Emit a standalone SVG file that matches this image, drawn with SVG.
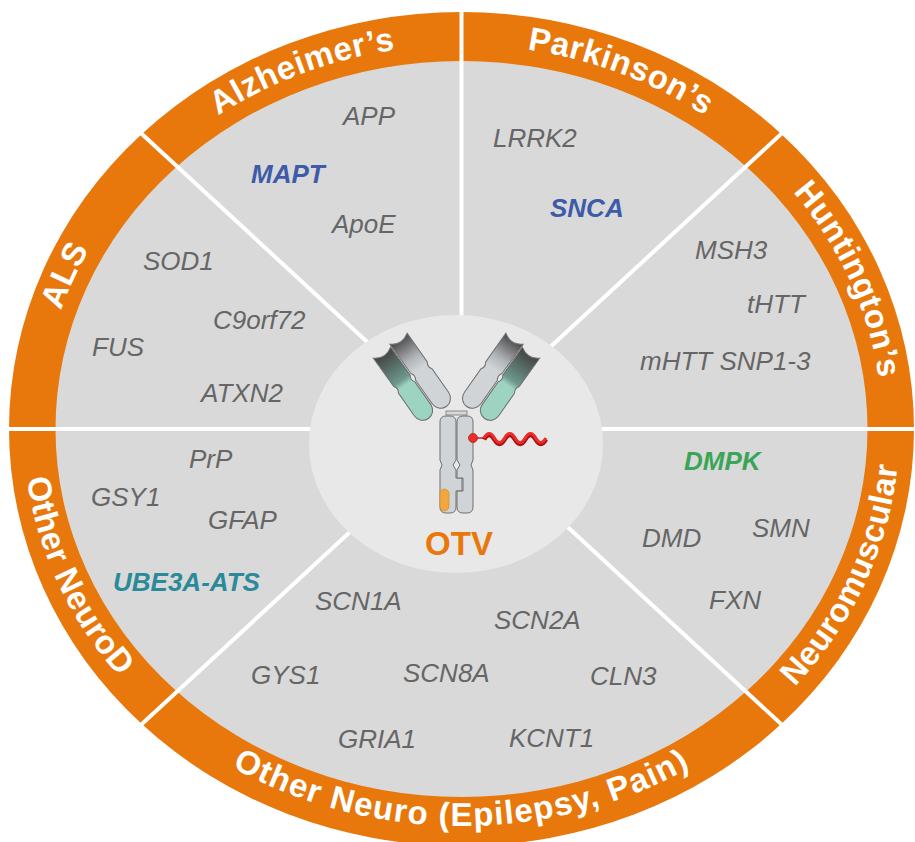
<svg xmlns="http://www.w3.org/2000/svg" xmlns:xlink="http://www.w3.org/1999/xlink" width="915" height="842" viewBox="0 0 915 842">
  <style>
    .band { fill: #E8780C; }
    .sector { fill: #D9D9D9; }
    .hub { fill: #E8E8E8; }
    .divider { stroke: #FFFFFF; stroke-width: 4; fill: none; }
    .cat { font-family: "Liberation Sans", Arial, sans-serif; font-weight: bold; font-size: 33px; letter-spacing: 0.5px; fill: #FFFFFF; }
    .cat-wide { letter-spacing: 1.2px; }
    .gene { font-family: "Liberation Sans", Arial, sans-serif; font-style: italic; font-size: 26px; fill: #666666; }
    .key { font-weight: bold; }
    .blue { fill: #3E5BA9; }
    .green { fill: #3AA556; }
    .teal { fill: #2A8A9A; }
    .chain { stroke: #6E6E6E; stroke-width: 1; }
    .fc { fill: #D1D4D7; stroke: #6E6E6E; stroke-width: 1; }
    .otv { font-family: "Liberation Sans", Arial, sans-serif; font-weight: bold; font-size: 33px; fill: #E8780C; }
  </style>
  <defs>
    <!-- baseline arcs for the category labels: clockwise along the top, counter-clockwise along the bottom -->
    <path id="arc-alz" d="M165.5,155.9 A421,384 0 0 1 461.5,45"/>
    <path id="arc-park" d="M461.5,45 A421,384 0 0 1 757.5,155.9"/>
    <path id="arc-hunt" d="M757.5,155.9 A421,384 0 0 1 882.5,429"/>
    <path id="arc-als" d="M40.5,429 A421,384 0 0 1 165.5,155.9"/>
    <path id="arc-ond" d="M23.5,429 A438,397 0 0 0 154.6,712.2"/>
    <path id="arc-on" d="M154.6,712.2 A438,397 0 0 0 768.4,712.2"/>
    <path id="arc-nm" d="M768.4,712.2 A438,397 0 0 0 899.5,429"/>

    <!-- antibody arm chain, drawn upright from its top centre -->
    <path id="chain" d="M-10.5,-1 Q-1,7 10,0 L10,34 Q7,38 10,42 L10,70 A10,10 0 0 1 -10,70 L-10,42 Q-7,38 -10,34 Z"/>
    <linearGradient id="gHeavy" x1="0" y1="0" x2="0" y2="1">
      <stop offset="0" stop-color="#444444"/>
      <stop offset="0.3" stop-color="#B3B6B9"/>
      <stop offset="0.45" stop-color="#D1D4D7"/>
      <stop offset="1" stop-color="#D1D4D7"/>
    </linearGradient>
    <linearGradient id="gLight" x1="0" y1="0" x2="0" y2="1">
      <stop offset="0" stop-color="#3F3F3F"/>
      <stop offset="0.42" stop-color="#6E978B"/>
      <stop offset="0.5" stop-color="#9CD3C1"/>
      <stop offset="1" stop-color="#9CD3C1"/>
    </linearGradient>
  </defs>

  <!-- wheel background -->
  <ellipse class="band" cx="461.5" cy="429" rx="452.5" ry="417"/>
  <ellipse class="sector" cx="461.5" cy="429" rx="406" ry="368"/>

  <!-- sector dividers -->
  <g id="dividers">
    <line class="divider" x1="461.5" y1="429" x2="461.5" y2="0"/>
    <line class="divider" x1="461.5" y1="429" x2="123.5" y2="117"/>
    <line class="divider" x1="461.5" y1="429" x2="799.5" y2="117"/>
    <line class="divider" x1="461.5" y1="429" x2="0" y2="429"/>
    <line class="divider" x1="461.5" y1="429" x2="915" y2="429"/>
    <line class="divider" x1="461.5" y1="429" x2="123.5" y2="741"/>
    <line class="divider" x1="461.5" y1="429" x2="799.5" y2="741"/>
  </g>

  <!-- central hub with the OTV antibody -->
  <g id="otv">
    <ellipse class="hub" cx="456" cy="444" rx="147" ry="129"/>
    <g id="arm-left">
      <use xlink:href="#chain" class="chain" fill="url(#gLight)" transform="translate(382.5,353) rotate(-35)"/>
      <use xlink:href="#chain" class="chain" fill="url(#gHeavy)" transform="translate(399,339) rotate(-35) scale(1,1.03)"/>
    </g>
    <use xlink:href="#arm-left" transform="translate(913,0) scale(-1,1)"/>
    <!-- hinge -->
    <rect x="446" y="411" width="21" height="4" fill="#D8D8D8" stroke="#777777" stroke-width="0.8"/>
    <!-- Fc stem with knob-into-hole -->
    <path class="fc" d="M446,416 H450 Q456,416 456,422 V460 L453,465 L456,470 V478 H462 V491 H456 V507 Q456,513 450,513 H446 Q440,513 440,507 V470 L442,465 L440,460 V422 Q440,416 446,416 Z"/>
    <path class="fc" d="M463,416 H467 Q473,416 473,422 V460 L471,465 L473,470 V507 Q473,513 467,513 H463 Q457,513 457,507 V491 H463 V478 H457 V470 L460,465 L457,460 V422 Q457,416 463,416 Z"/>
    <rect x="440" y="489" width="9" height="22" rx="4.5" fill="#F2A63C" stroke="#C98A2C" stroke-width="0.6"/>
    <!-- oligonucleotide payload -->
    <line x1="476" y1="438" x2="485" y2="438" stroke="#D42020" stroke-width="1.5"/>
    <path d="M484,439.5 q5.17,-9 10.33,0 t10.33,0 t10.33,0 t10.33,0 t10.33,0 t10.33,0" fill="none" stroke="#A81212" stroke-width="4.5"/>
    <path d="M484,438 q5.17,-9 10.33,0 t10.33,0 t10.33,0 t10.33,0 t10.33,0 t10.33,0" fill="none" stroke="#EE2A2A" stroke-width="3"/>
    <circle cx="473" cy="438" r="4.5" fill="#E8302A" stroke="#B52020" stroke-width="0.8"/>
    <text class="otv" x="459" y="555" text-anchor="middle">OTV</text>
  </g>

  <g id="alzheimers">
    <text class="cat"><textPath xlink:href="#arc-alz" startOffset="50%" text-anchor="middle">Alzheimer’s</textPath></text>
    <text class="gene" x="343" y="125">APP</text>
    <text class="gene key blue" x="251" y="183">MAPT</text>
    <text class="gene" x="332" y="233">ApoE</text>
  </g>

  <g id="parkinsons">
    <text class="cat"><textPath xlink:href="#arc-park" startOffset="50%" text-anchor="middle">Parkinson’s</textPath></text>
    <text class="gene" x="493" y="147">LRRK2</text>
    <text class="gene key blue" x="550" y="217">SNCA</text>
  </g>

  <g id="huntingtons">
    <text class="cat"><textPath xlink:href="#arc-hunt" startOffset="50%" text-anchor="middle">Huntington’s</textPath></text>
    <text class="gene" x="695" y="259">MSH3</text>
    <text class="gene" x="747" y="313">tHTT</text>
    <text class="gene" x="640" y="370">mHTT SNP1-3</text>
  </g>

  <g id="als">
    <text class="cat"><textPath xlink:href="#arc-als" startOffset="50%" text-anchor="middle">ALS</textPath></text>
    <text class="gene" x="143" y="270">SOD1</text>
    <text class="gene" x="213" y="329">C9orf72</text>
    <text class="gene" x="92" y="356">FUS</text>
    <text class="gene" x="201" y="402">ATXN2</text>
  </g>

  <g id="other-neurod">
    <text class="cat"><textPath xlink:href="#arc-ond" startOffset="50%" text-anchor="middle">Other NeuroD</textPath></text>
    <text class="gene" x="189" y="468">PrP</text>
    <text class="gene" x="91" y="506">GSY1</text>
    <text class="gene" x="208" y="529">GFAP</text>
    <text class="gene key teal" x="113" y="591">UBE3A-ATS</text>
  </g>

  <g id="other-neuro">
    <text class="cat cat-wide"><textPath xlink:href="#arc-on" startOffset="50%" text-anchor="middle">Other Neuro (Epilepsy, Pain)</textPath></text>
    <text class="gene" x="315" y="610">SCN1A</text>
    <text class="gene" x="494" y="629">SCN2A</text>
    <text class="gene" x="251" y="684">GYS1</text>
    <text class="gene" x="403" y="682">SCN8A</text>
    <text class="gene" x="590" y="685">CLN3</text>
    <text class="gene" x="338" y="748">GRIA1</text>
    <text class="gene" x="509" y="747">KCNT1</text>
  </g>

  <g id="neuromuscular">
    <text class="cat"><textPath xlink:href="#arc-nm" startOffset="50%" text-anchor="middle">Neuromuscular</textPath></text>
    <text class="gene key green" x="684" y="470">DMPK</text>
    <text class="gene" x="752" y="537">SMN</text>
    <text class="gene" x="642" y="547">DMD</text>
    <text class="gene" x="709" y="609">FXN</text>
  </g>
</svg>
